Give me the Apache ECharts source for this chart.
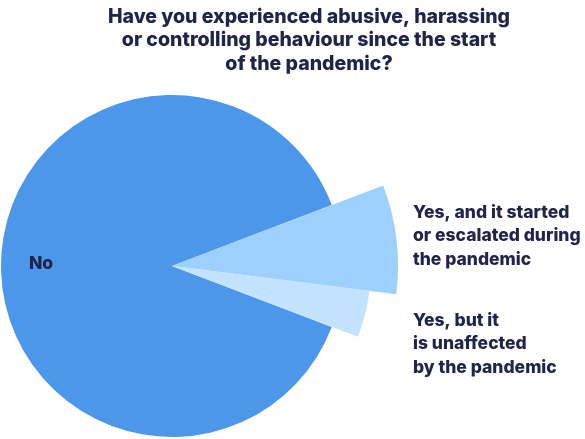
<!DOCTYPE html>
<html><head><meta charset="utf-8">
<script src="https://cdn.jsdelivr.net/npm/echarts@6/dist/echarts.min.js"></script>
<style>html,body{margin:0;padding:0;background:#fff}#c{width:585px;height:439px}</style>
</head><body><div id="c"></div>
<script>
const titleText = "Have you experienced abusive, harassing\nor controlling behaviour since the start\nof the pandemic?";
const categories = ["Yes, and it started\nor escalated during\nthe pandemic", "Yes, but it\nis unaffected\nby the pandemic", "No"];
const values = [7.8, 3.8, 88.4];
const colors = ["#9dd0fd", "#c2e2fe", "#4d97eb"];
const radii = [226, 199, 171];

const chart = echarts.init(document.getElementById('c'), null, {renderer: 'canvas'});
const textColor = '#20234a';
const font = 'Inter';
const labelPos = [[413, 236], [413, 344], [41, 264]];

const series = categories.map((cat, si) => ({
  type: 'pie',
  center: [172, 266],
  radius: [0, radii[si]],
  startAngle: 20.9,
  clockwise: true,
  animation: false,
  silent: true,
  z: si === 2 ? 1 : 2,
  data: categories.map((c, i) => ({
    name: c,
    value: values[i],
    itemStyle: { color: i === si ? colors[i] : 'rgba(0,0,0,0)' },
    label: { show: i === si }
  })),
  label: {
    position: 'inside',
    formatter: '{b}',
    color: textColor,
    fontFamily: font,
    fontWeight: 800,
    fontSize: 17.5,
    lineHeight: 23.5,
    align: 'left'
  },
  labelLine: { show: false },
  labelLayout: function (p) {
    if (p.dataIndex !== si) return {};
    const pos = labelPos[si];
    return { x: pos[0], y: pos[1], align: si === 2 ? 'center' : 'left', verticalAlign: 'middle', hideOverlap: false, moveOverlap: false };
  }
}));

chart.setOption({
  backgroundColor: '#ffffff',
  title: {
    text: titleText,
    left: 304,
    top: 0,
    textAlign: 'center',
    textStyle: { color: textColor, fontFamily: font, fontWeight: 800, fontSize: 19.5, lineHeight: 23.5 }
  },
  series: series
});
</script>
</body></html>
